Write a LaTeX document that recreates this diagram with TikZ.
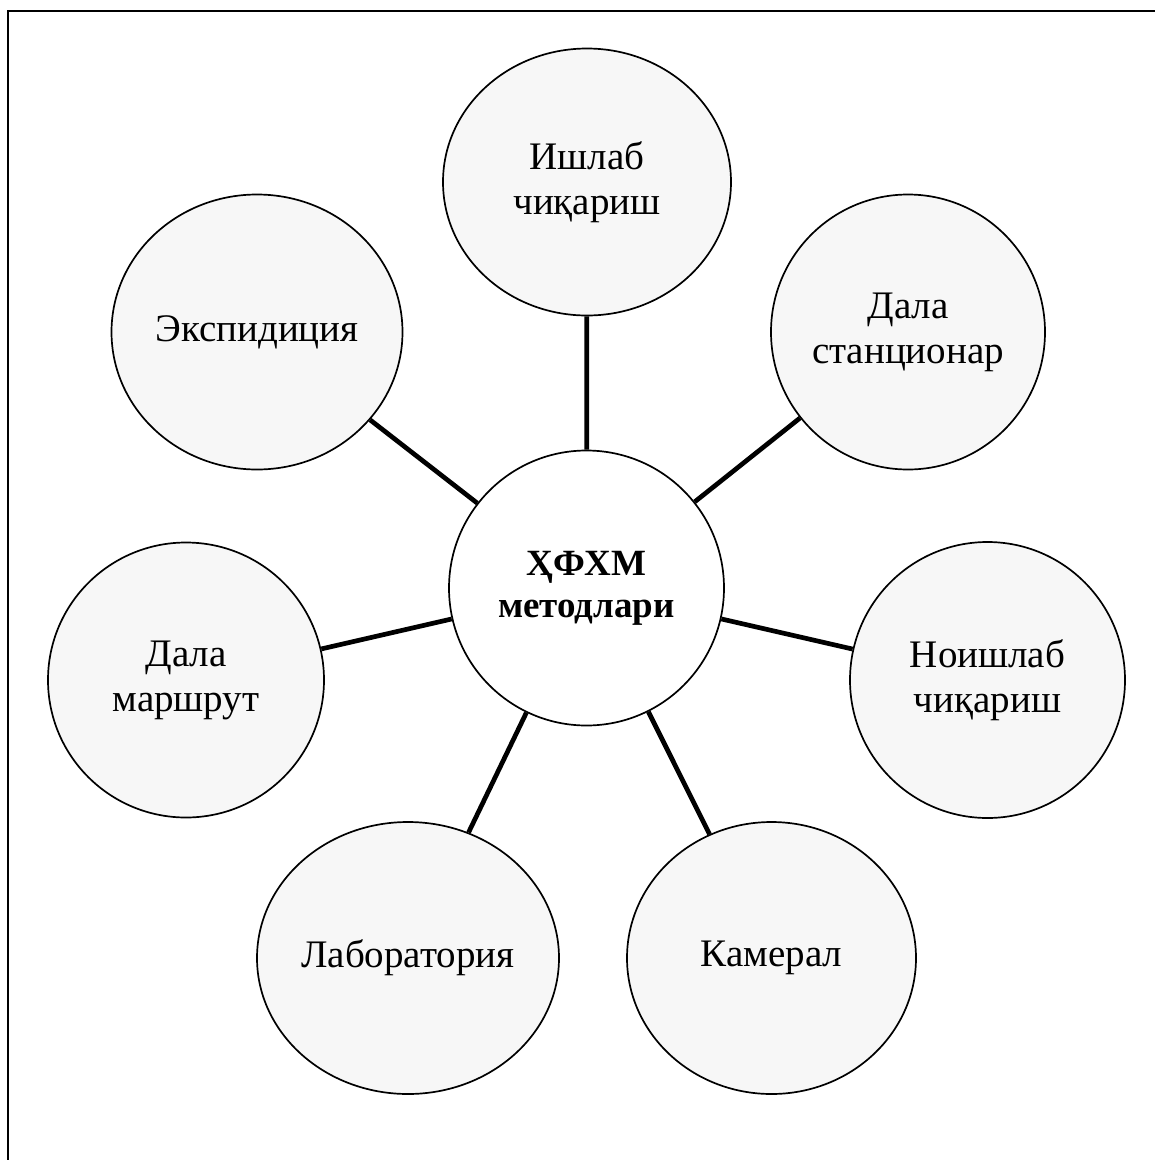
\documentclass[tikz,border=0pt]{standalone}
\usepackage{fontspec}
\setmainfont{Liberation Serif}
\usetikzlibrary{shapes.geometric}
\begin{document}
\begin{tikzpicture}[x=1pt,y=-1pt,
  outer/.style={ellipse, draw=black, line width=1.7pt, fill=black!3, inner sep=0pt,
    align=center, font=\fontsize{39}{45}\selectfont},
  hub/.style={ellipse, draw=black, line width=1.7pt, fill=white, inner sep=0pt,
    align=center, font=\fontsize{37}{42}\selectfont\bfseries},
  link/.style={line width=4.7pt, draw=black}]
\useasboundingbox (0,0) rectangle (1155,1160);
\fill[white] (0,0) rectangle (1155,1160);
\draw[line width=2.8pt] (8,1160) -- (8,11) -- (1155,11);
\node[hub, minimum width=275pt, minimum height=275pt] (c) at (586.5,588) {ҲФХМ\\методлари};
\node[outer, minimum width=288pt, minimum height=267pt] (t) at (587,182) {Ишлаб\\чиқариш};
\node[outer, minimum width=291pt, minimum height=275pt] (e) at (257,332) {Экспидиция};
\node[outer, minimum width=274pt, minimum height=275pt] (s) at (908,332) {Дала\\станционар};
\node[outer, minimum width=276pt, minimum height=275pt] (m) at (186,680) {Дала\\маршрут};
\node[outer, minimum width=275pt, minimum height=276pt] (n) at (987.5,680) {Ноишлаб\\чиқариш};
\node[outer, minimum width=302pt, minimum height=272pt] (l) at (408,958) {Лаборатория};
\node[outer, minimum width=289pt, minimum height=272pt] (k) at (771.5,958) {Камерал};
\foreach \o in {t,e,s,m,n,l,k} { \draw[link] (c) -- (\o); }
\end{tikzpicture}
\end{document}
